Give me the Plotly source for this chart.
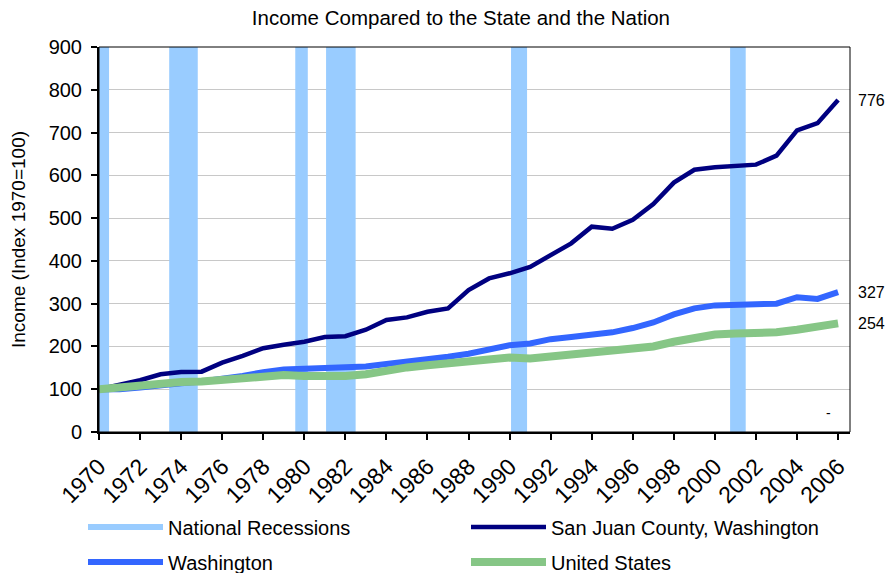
import plotly.graph_objects as go

years = list(range(1970, 2007))

san_juan = [100, 110, 121, 135, 140, 141, 162, 178, 196, 204, 211, 222, 224, 239, 262, 268, 281, 289,
            332, 359, 371, 386, 414, 441, 480, 475, 496, 533, 583, 613, 619, 622, 625, 646, 705, 722, 776]
washington = [100, 100, 104, 110, 114, 118, 124, 131, 140, 146, 148, 149, 150, 153, 159, 164, 170, 176,
              183, 193, 203, 207, 217, 222, 227, 233, 243, 256, 275, 289, 296, 297, 298, 300, 315, 311, 327]
united_states = [100, 105, 110, 116, 117, 118, 121, 125, 130, 133, 131, 130, 131, 135, 145, 151, 156, 161,
                 166, 171, 174, 172, 177, 181, 185, 189, 193, 200, 211, 219, 228, 230, 231, 233, 239, 246, 254]

recession_start = [1969.6, 1973.42, 1979.56, 1981.06, 1990.07, 2000.74]
recession_end = [1970.49, 1974.81, 1980.17, 1982.50, 1990.85, 2001.50]
recession_top = 900

tick_years = list(range(1970, 2007, 2))
y_ticks = list(range(0, 1000, 100))

FONT = "Liberation Sans, Arial, sans-serif"

W, H = 895, 573
ML, MR, MT, MB = 99, 45, 47, 141

fig = go.Figure()

rx, ry = [], []
for s, e in zip(recession_start, recession_end):
    rx += [s, e, e, s, s, None]
    ry += [0, 0, recession_top, recession_top, 0, None]
fig.add_trace(go.Scatter(
    x=rx, y=ry, mode="none", fill="toself", fillcolor="#99CCFF",
    name="National Recessions", legend="legend", hoverinfo="skip",
))
fig.add_trace(go.Scatter(
    x=years, y=san_juan, mode="lines", name="San Juan County, Washington",
    line=dict(color="#000080", width=4.5), legend="legend",
))
fig.add_trace(go.Scatter(
    x=years, y=washington, mode="lines", name="Washington",
    line=dict(color="#3366FF", width=6), legend="legend2",
))
fig.add_trace(go.Scatter(
    x=years, y=united_states, mode="lines", name="United States",
    line=dict(color="rgb(134,198,134)", width=8), legend="legend2",
))

# end labels
for series in (san_juan, washington, united_states):
    fig.add_annotation(
        x=1.008, xref="paper", y=series[-1], yref="y", xanchor="left",
        text=str(series[-1]), showarrow=False, font=dict(size=16, color="black", family=FONT),
    )
fig.add_annotation(x=2005.55, y=44, xref="x", yref="y", text="-", showarrow=False,
                   font=dict(size=14, color="black", family=FONT))

leg_common = dict(orientation="h", xanchor="left", yanchor="middle",
                  itemwidth=75, entrywidth=293, entrywidthmode="pixels",
                  font=dict(size=20, family=FONT, color="black"),
                  bgcolor="rgba(0,0,0,0)", traceorder="normal")

fig.update_layout(
    width=W, height=H,
    margin=dict(l=ML, r=MR, t=MT, b=MB, autoexpand=False),
    paper_bgcolor="white", plot_bgcolor="white",
    font=dict(family=FONT, color="black"),
    title=dict(text="Income Compared to the State and the Nation", x=0.515, xanchor="center",
               y=0.969, yanchor="middle", font=dict(size=20.5, family=FONT, color="black")),
    showlegend=True,
    legend=dict(x=-0.0213, y=-0.2468, **leg_common),
    legend2=dict(x=-0.0213, y=-0.3377, **leg_common),
)
fig.update_xaxes(
    range=[1970, 2006.58], tickvals=tick_years, ticktext=[str(y) for y in tick_years],
    tickangle=-45, ticks="outside", ticklen=6, tickwidth=2, tickcolor="black",
    showline=True, linecolor="black", linewidth=2, showgrid=False, zeroline=False,
    tickfont=dict(size=23, family=FONT), automargin=False, ticklabelstandoff=4,
)
fig.update_yaxes(
    range=[0, 900], tickvals=y_ticks, ticks="outside", ticklen=6, tickwidth=2, tickcolor="black",
    showline=True, linecolor="black", linewidth=2, showgrid=True, gridcolor="#c8c8c8", gridwidth=1,
    zeroline=False, tickfont=dict(size=20, family=FONT), automargin=False, ticklabelstandoff=5,
    title=dict(text="Income (Index 1970=100)", font=dict(size=19, family=FONT), standoff=18),
)
fig.add_shape(type="rect", xref="paper", yref="paper", x0=0, x1=1, y0=0, y1=1,
              line=dict(color="black", width=1), layer="above")

fig.write_html("out.html", config={"displayModeBar": False},
               post_script="document.body.style.margin='0px';")
